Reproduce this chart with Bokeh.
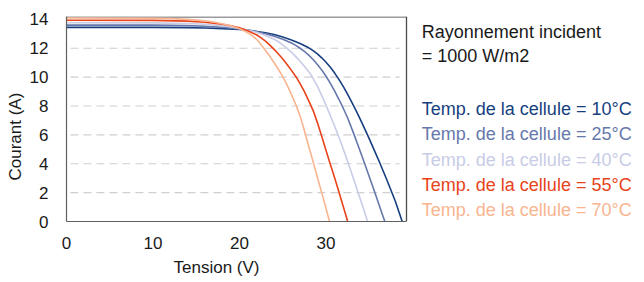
from bokeh.plotting import figure
from bokeh.models import Range1d, FixedTicker, Title
from bokeh.core.properties import value
from bokeh.embed import file_html
from bokeh.resources import INLINE

# ---- data ----
temps = ["10°C", "25°C", "40°C", "55°C", "70°C"]
colors = ["#173f80", "#6678ab", "#c8cce6", "#e8431b", "#f8b590"]

v_10 = [0, 10, 14, 16, 18, 20, 21, 22, 23, 24, 25, 26, 27, 28, 28.5, 29, 29.5, 30, 30.5,
        31, 31.5, 32, 32.5, 33, 33.5, 34, 34.5, 35, 36, 37, 38, 38.8]
i_10 = [13.45, 13.45, 13.43, 13.4, 13.36, 13.3, 13.24, 13.16, 13.07, 12.95, 12.78, 12.58, 12.33, 12.03,
        11.84, 11.61, 11.34, 11.03, 10.68, 10.28, 9.83, 9.34, 8.81, 8.24, 7.64, 7.02, 6.38, 5.72,
        4.36, 2.93, 1.42, 0]

v_25 = [0, 10, 14, 16, 18, 20, 21, 22, 23, 24, 25, 26, 26.5, 27, 27.5, 28, 28.5, 29, 29.5, 30,
        30.5, 31, 31.5, 32, 32.5, 33, 33.5, 34, 34.5, 35, 35.5, 36, 36.5, 36.8]
i_25 = [13.6, 13.6, 13.57, 13.52, 13.45, 13.34, 13.26, 13.15, 13.0, 12.84, 12.63, 12.36, 12.2, 12.0,
        11.78, 11.52, 11.22, 10.88, 10.5, 10.06, 9.57, 9.03, 8.45, 7.83, 7.17, 6.4, 5.6, 4.78, 3.95,
        3.1, 2.25, 1.38, 0.5, 0]

v_40 = [0, 10, 14, 16, 18, 19, 20, 22, 23, 24, 24.5, 25, 25.5, 26, 26.5, 27, 27.5, 28, 28.5, 29,
        29.5, 30, 30.5, 31, 31.5, 32, 32.5, 33, 33.5, 34, 34.5, 34.8]
i_40 = [13.77, 13.76, 13.72, 13.66, 13.56, 13.48, 13.38, 13.1, 12.88, 12.62, 12.45, 12.24, 12.0, 11.72,
        11.42, 11.1, 10.75, 10.38, 9.92, 9.38, 8.72, 8.05, 7.33, 6.6, 5.82, 5.0, 4.15, 3.27, 2.38,
        1.48, 0.57, 0]

v_55 = [0, 10, 14, 16, 18, 19, 20, 21, 22, 22.5, 23, 23.5, 24, 24.5, 25, 25.5, 26, 26.5, 27, 27.5,
        28, 28.5, 29, 29.5, 30, 30.5, 31, 31.5, 32, 32.5]
i_55 = [13.94, 13.93, 13.88, 13.8, 13.66, 13.56, 13.42, 13.2, 12.92, 12.72, 12.5, 12.22, 11.92, 11.6,
        11.25, 10.88, 10.47, 10.05, 9.55, 9.0, 8.35, 7.7, 6.85, 5.9, 4.92, 3.95, 3.02, 2.02, 1.02, 0]

v_70 = [0, 10, 12, 14, 16, 17, 18, 19, 20, 20.5, 21, 21.5, 22, 22.5, 23, 23.5, 24, 24.5, 25, 25.5,
        26, 26.5, 27, 27.5, 28, 28.5, 29, 29.5, 30, 30.4]
i_70 = [14.1, 14.08, 14.05, 14.0, 13.9, 13.82, 13.7, 13.55, 13.35, 13.22, 13.06, 12.86, 12.6, 12.24,
        11.85, 11.44, 11.0, 10.53, 10.03, 9.45, 8.8, 8.1, 7.3, 6.3, 5.2, 4.15, 3.05, 2.0, 0.9, 0]

series_v = [v_10, v_25, v_40, v_55, v_70]
series_i = [i_10, i_25, i_40, i_55, i_70]

y_ticks = [0, 2, 4, 6, 8, 10, 12, 14]
grid_vals = [2, 4, 6, 8, 10, 12]
x_ticks = [0, 10, 20, 30]
x_max = 39.3
y_max = 14.2
x_view = 66.81  # frame extends under the text block on the right

FONT = "Liberation Sans"

p = figure(width=644, height=282, output_backend="svg", toolbar_location=None,
           x_range=Range1d(0, x_view), y_range=Range1d(0, y_max),
           min_border_left=66, min_border_right=0, min_border_top=16, min_border_bottom=61)

p.outline_line_color = None
p.xgrid.visible = False
p.ygrid.visible = False

# dashed horizontal grid, limited to the chart box
p.segment(x0=[0.45] * len(grid_vals), y0=grid_vals, x1=[x_max - 0.8] * len(grid_vals), y1=grid_vals,
          line_color="#d0d0d0", line_dash="8 5", line_width=1.2)

# box: top (light grey) and right (dark grey)
p.segment(x0=[0], y0=[y_max], x1=[x_max], y1=[y_max], line_color="#9c9c9c", line_width=3)
p.segment(x0=[x_max], y0=[0], x1=[x_max], y1=[y_max], line_color="#4a4a4a", line_width=1.3)

# axes
for ax in (p.xaxis[0], p.yaxis[0]):
    ax.major_tick_line_color = None
    ax.minor_tick_line_color = None
    ax.axis_line_color = "#606060"
    ax.axis_line_width = 1.2
    ax.major_label_text_font = FONT
    ax.major_label_text_font_size = "17px"
    ax.major_label_text_color = "#1a1a1a"
p.xaxis[0].ticker = FixedTicker(ticks=x_ticks)
p.xaxis[0].bounds = (0, x_max)
p.yaxis[0].ticker = FixedTicker(ticks=y_ticks)
p.yaxis[0].major_label_standoff = 12
p.xaxis[0].major_label_standoff = 9

# curves
for v, i, c in zip(series_v, series_i, colors):
    p.line(v, i, line_color=c, line_width=1.6)

# axis titles
p.add_layout(Title(text="Tension (V)", align="left", offset=107, text_font=FONT,
                   text_font_size="17px", text_font_style="normal", text_color="#1a1a1a",
                   standoff=9), "below")
p.add_layout(Title(text="Courant (A)", align="left", offset=41, text_font=FONT,
                   text_font_size="17px", text_font_style="normal", text_color="#1a1a1a",
                   standoff=4), "left")

# text block on the right
lx = 41.07
head = ["Rayonnement incident", "= 1000 W/m2"]
head_y = [13.11, 11.43]
p.text(x=[lx] * 2, y=head_y, text=head, text_font=value(FONT), text_font_size="18px",
       text_color="#1a1a1a", text_align="left", text_baseline="alphabetic")
leg_y = [7.80, 6.03, 4.29, 2.54, 0.81]
p.text(x=[lx] * len(temps), y=leg_y, text=["Temp. de la cellule = " + t for t in temps],
       text_font=value(FONT), text_font_size="18px", text_color=colors,
       text_align="left", text_baseline="alphabetic")

open("out.html", "w").write(file_html(p, INLINE))
